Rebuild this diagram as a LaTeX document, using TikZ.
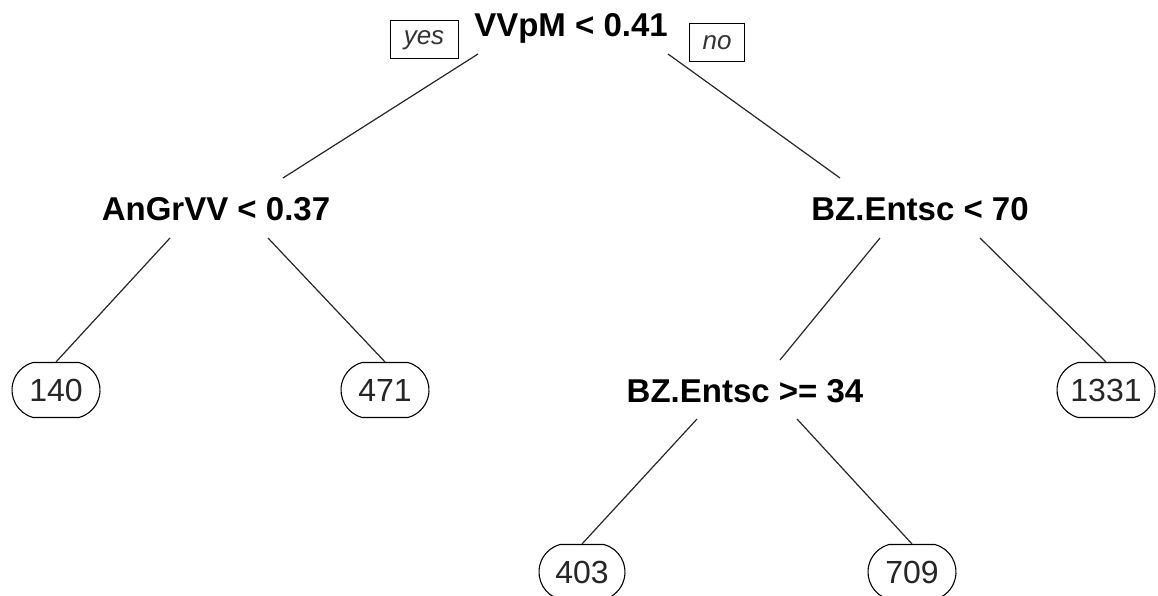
\documentclass[tikz,border=0pt]{standalone}
\usepackage{fontspec}
\setmainfont{Liberation Sans}
\usetikzlibrary{shapes.misc}
\tikzset{
  split/.style={font=\fontsize{33}{38}\selectfont\bfseries, inner sep=0pt, anchor=base},
  leaf/.style={draw, rounded rectangle, rounded rectangle arc length=150, line width=1.1pt,
    font=\fontsize{32}{36}\selectfont, inner sep=0pt, minimum height=55pt, text=black!85},
  yn/.style={draw, line width=1pt, font=\fontsize{26}{30}\selectfont\itshape, inner sep=0pt,
    minimum height=38pt, text=black!80},
  edge/.style={line width=1.2pt, black!85}
}
\begin{document}
\begin{tikzpicture}[x=1pt,y=-1pt]
\useasboundingbox[fill=white] (0,0) rectangle (1158,596);
% split nodes
\node[split] (root) at (571,37) {VVpM < 0.41};
\node[split] (ang) at (216,220) {AnGrVV < 0.37};
\node[split] (bz70) at (920,220) {BZ.Entsc < 70};
\node[split] (bz34) at (745,402) {BZ.Entsc >= 34};
% yes / no
\node[yn, minimum width=68pt] (yes) at (424,40) {yes};
\node[yn, minimum width=55pt] (no) at (717,43) {no};
% leaves
\node[leaf, minimum width=88pt] (l140) at (56,390) {140};
\node[leaf, minimum width=88pt] (l471) at (385,390) {471};
\node[leaf, minimum width=98pt] (l1331) at (1106,390) {1331};
\node[leaf, minimum width=86pt] (l403) at (582,572) {403};
\node[leaf, minimum width=88pt] (l709) at (912,572) {709};
% connector end points
\coordinate (r1) at (478,54);
\coordinate (r2) at (668,54);
\coordinate (a0) at (283,178);
\coordinate (b0) at (840,178);
\coordinate (a1) at (170,238);
\coordinate (a2) at (268,238);
\coordinate (b1) at (880,238);
\coordinate (b2) at (980,238);
\coordinate (c0) at (780,360);
\coordinate (c1) at (697,419);
\coordinate (c2) at (797,419);
% connectors
\draw[edge] (r1) -- (a0);
\draw[edge] (r2) -- (b0);
\draw[edge] (a1) -- (l140.north);
\draw[edge] (a2) -- (l471.north);
\draw[edge] (b1) -- (c0);
\draw[edge] (b2) -- (l1331.north);
\draw[edge] (c1) -- (l403.north);
\draw[edge] (c2) -- (l709.north);
\end{tikzpicture}
\end{document}
